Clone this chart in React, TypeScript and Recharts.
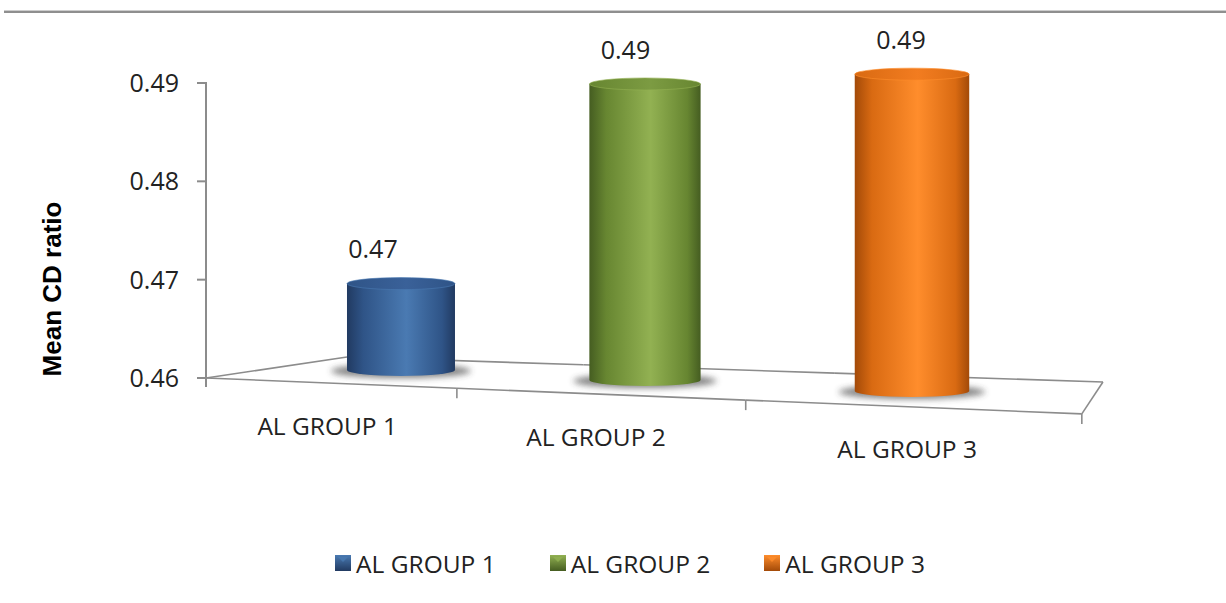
import { BarChart, Bar, XAxis, YAxis, Cell, LabelList, Legend, Label } from 'recharts';

const categories = ['AL GROUP 1', 'AL GROUP 2', 'AL GROUP 3'];
const meanCdRatio = [0.4696, 0.4899, 0.4909];
const yTicks = [0.46, 0.47, 0.48, 0.49];

const palette = [
  { dark: '#213a61', mid: '#2f5487', light: '#4a7ab2', top: '#3a6199' },
  { dark: '#455d21', mid: '#678631', light: '#92b152', top: '#7c9b42' },
  { dark: '#a34a08', mid: '#d96a12', light: '#ff8d2c', top: '#f27c20' },
];

const data = categories.map((name, i) => ({ name, value: meanCdRatio[i] }));

// layout: tick 0.49 sits at y=83, 0.46 at y=378, plot spans x 206..1106
const W = 1226;
const H = 603;
const TOP_TICK_Y = 83;
const BOTTOM_Y = 378;
const Y_MIN = yTicks[0];
const Y_TOP_TICK = yTicks[yTicks.length - 1];
const Y_MAX = Math.max(Y_TOP_TICK, ...meanCdRatio);
const PX_PER_UNIT = (BOTTOM_Y - TOP_TICK_Y) / (Y_TOP_TICK - Y_MIN);
const TICK_STEP = yTicks[1] - yTicks[0];

const X_AXIS_H = 170;
const LEGEND_H = 30;
const Y_AXIS_W = 186;
const MARGIN = {
  top: TOP_TICK_Y - (Y_MAX - Y_TOP_TICK) * PX_PER_UNIT,
  right: 120,
  bottom: H - BOTTOM_Y - X_AXIS_H - LEGEND_H,
  left: 20,
};
const PLOT_LEFT = MARGIN.left + Y_AXIS_W;
const PLOT_RIGHT = W - MARGIN.right;
const BAND = (PLOT_RIGHT - PLOT_LEFT) / categories.length;

const FONT = '"Open Sans", sans-serif';
const TEXT = '#222';
const LINE = '#8c8c8c';

// fake 3d floor: u = position in category units, 0 = left edge
const FRONT_SLOPE = 0.041;
const BACK_SLOPE = 0.0331;
const frontX = (u: number) => PLOT_LEFT + (234.4 * u) / (1 - 0.0657 * u);
const midX = (u: number) => PLOT_LEFT + (80.7 + 220.35 * u) / (1 - 0.04216 * u);
const backX = (u: number) => PLOT_LEFT + 141 + (229.3 * u) / (1 - 0.03 * u);
const frontY = (x: number) => BOTTOM_Y + FRONT_SLOPE * (x - PLOT_LEFT);
const backY = (x: number) => BOTTOM_Y - 21 + BACK_SLOPE * (x - PLOT_LEFT - 141);

function FloorSection(props: any) {
  const { x, width } = props;
  const i = Math.floor((x + width / 2 - PLOT_LEFT) / BAND);
  const n = categories.length;
  const f0 = frontX(i);
  const f1 = frontX(i + 1);
  const b0 = backX(i);
  const b1 = backX(i + 1);
  const s = { stroke: LINE, strokeWidth: 1.6, fill: 'none' };
  return (
    <g>
      <line x1={f0} y1={frontY(f0)} x2={f1} y2={frontY(f1)} {...s} />
      <line x1={b0} y1={backY(b0)} x2={b1} y2={backY(b1)} {...s} />
      <line x1={f1} y1={frontY(f1)} x2={f1} y2={frontY(f1) + 10} {...s} />
      {i === 0 && (
        <>
          <line x1={f0} y1={BOTTOM_Y} x2={b0} y2={backY(b0)} {...s} />
          <line x1={f0} y1={BOTTOM_Y} x2={f0} y2={BOTTOM_Y + 9} stroke={LINE} strokeWidth={2} />
        </>
      )}
      {i === n - 1 && <line x1={f1} y1={frontY(f1)} x2={b1} y2={backY(b1)} {...s} />}
    </g>
  );
}

function Cylinder(props: any) {
  const { x, y, width, height, index } = props;
  const c = palette[index];
  const u = (x + width / 2 - PLOT_LEFT) / BAND;
  const cx = midX(u);
  const w = width * (1 + 0.03 * (u - 0.5));
  const rx = w / 2;
  const ry = 6;
  const yTop = y;
  const yBot = y + height + FRONT_SLOPE * (cx - PLOT_LEFT) - 16;
  const gid = `cyl-${index}`;
  return (
    <g>
      <defs>
        <linearGradient id={`${gid}-side`} x1="0" x2="1" y1="0" y2="0">
          <stop offset="0" stopColor={c.dark} />
          <stop offset="0.15" stopColor={c.mid} />
          <stop offset="0.55" stopColor={c.light} />
          <stop offset="0.88" stopColor={c.mid} />
          <stop offset="1" stopColor={c.dark} />
        </linearGradient>
        <linearGradient id={`${gid}-top`} x1="0" x2="1" y1="0" y2="0">
          <stop offset="0" stopColor={c.mid} />
          <stop offset="0.55" stopColor={c.top} />
          <stop offset="1" stopColor={c.mid} />
        </linearGradient>
        <filter id={`${gid}-blur`} x="-30%" y="-300%" width="160%" height="700%">
          <feGaussianBlur stdDeviation="3" />
        </filter>
      </defs>
      <ellipse cx={cx} cy={yBot + 1} rx={rx + 16} ry={7} fill="#333" opacity={0.6} filter={`url(#${gid}-blur)`} />
      <path
        d={`M${cx - rx},${yTop} L${cx - rx},${yBot} A${rx},${ry} 0 0 0 ${cx + rx},${yBot} L${cx + rx},${yTop} Z`}
        fill={`url(#${gid}-side)`}
      />
      <ellipse cx={cx} cy={yTop} rx={rx} ry={ry} fill={`url(#${gid}-top)`} stroke={c.light} strokeOpacity={0.6} strokeWidth={1} />
    </g>
  );
}

function ValueLabel(props: any) {
  const vb = props.viewBox || props;
  const { x, y, width } = vb;
  const u = (x + width / 2 - PLOT_LEFT) / BAND;
  const cx = midX(u) - 28 + 8.5 * (u - 0.5);
  return (
    <text x={cx} y={y - 34} dy="0.355em" textAnchor="middle" fontFamily={FONT} fontSize={25} fill={TEXT}>
      {Number(props.value).toFixed(2)}
    </text>
  );
}

function CategoryTick(props: any) {
  const { x, payload } = props;
  const u = (x - PLOT_LEFT) / BAND;
  const fx = frontX(u);
  return (
    <text x={fx} y={frontY(fx) + 43} dy="0.355em" textAnchor="middle" fontFamily={FONT} fontSize={24.5} fill={TEXT}>
      {payload.value}
    </text>
  );
}

// value tick + the axis segment down to the next tick (axis line stops at the top tick)
function ValueTick(props: any) {
  const { y, payload } = props;
  const v = Number(payload.value);
  return (
    <g>
      <line x1={PLOT_LEFT - 9} y1={y} x2={PLOT_LEFT} y2={y} stroke={LINE} strokeWidth={2} />
      {v > Y_MIN && (
        <line x1={PLOT_LEFT} y1={y - 1} x2={PLOT_LEFT} y2={y + TICK_STEP * PX_PER_UNIT} stroke={LINE} strokeWidth={2} />
      )}
      <text x={PLOT_LEFT - 27} y={y} dy="0.355em" textAnchor="end" fontFamily={FONT} fontSize={25} fill={TEXT}>
        {v.toFixed(2)}
      </text>
    </g>
  );
}

function YTitle() {
  return (
    <text
      x={52}
      y={289}
      transform="rotate(-90 52 289)"
      textAnchor="middle"
      dy="0.355em"
      fontFamily='"Liberation Sans", Arial, sans-serif'
      fontWeight="bold"
      fontSize={26}
      fill="#000"
    >
      Mean CD ratio
    </text>
  );
}

function LegendRow() {
  return (
    <div
      style={{
        display: 'flex',
        justifyContent: 'center',
        alignItems: 'center',
        height: LEGEND_H,
        paddingLeft: 134,
        gap: 54,
        fontFamily: FONT,
        fontSize: 24.5,
        color: TEXT,
      }}
    >
      {categories.map((name, i) => (
        <div key={name} style={{ display: 'flex', alignItems: 'center' }}>
          <svg width={16} height={16} style={{ marginRight: 5 }}>
            <defs>
              <linearGradient id={`leg-${i}`} x1="0" x2="0" y1="0" y2="1">
                <stop offset="0" stopColor={palette[i].light} />
                <stop offset="1" stopColor={palette[i].dark} />
              </linearGradient>
            </defs>
            <rect x={0} y={0} width={16} height={16} fill={`url(#leg-${i})`} />
            <path d="M3,2 L13,2 L8,7 Z" fill={palette[i].light} opacity={0.8} />
          </svg>
          <span>{name}</span>
        </div>
      ))}
    </div>
  );
}

export default function App() {
  return (
    <div style={{ position: 'absolute', left: 0, top: 0, width: W, height: H, background: '#fff', overflow: 'hidden' }}>
      <div style={{ position: 'absolute', left: 4, right: 0, top: 10, height: 1, background: '#cdcdcd' }} />
      <div style={{ position: 'absolute', left: 4, right: 0, top: 11, height: 2, background: '#8f8f8f' }} />
      <BarChart width={W} height={H} data={data} margin={MARGIN}>
        <XAxis
          dataKey="name"
          type="category"
          height={X_AXIS_H}
          axisLine={false}
          tickLine={false}
          interval={0}
          tick={<CategoryTick />}
        />
        <YAxis
          width={Y_AXIS_W}
          domain={[Y_MIN, Y_MAX]}
          ticks={yTicks}
          axisLine={false}
          tickLine={false}
          tick={<ValueTick />}
        >
          <Label content={<YTitle />} />
        </YAxis>
        <Legend verticalAlign="bottom" height={LEGEND_H} content={() => <LegendRow />} />
        <Bar
          dataKey="value"
          barSize={108}
          isAnimationActive={false}
          background={(p: any) => <FloorSection {...p} />}
          shape={(p: any) => <Cylinder {...p} />}
        >
          {data.map((d, i) => (
            <Cell key={d.name} fill={palette[i].mid} />
          ))}
          <LabelList dataKey="value" content={(p: any) => <ValueLabel {...p} />} />
        </Bar>
      </BarChart>
    </div>
  );
}
